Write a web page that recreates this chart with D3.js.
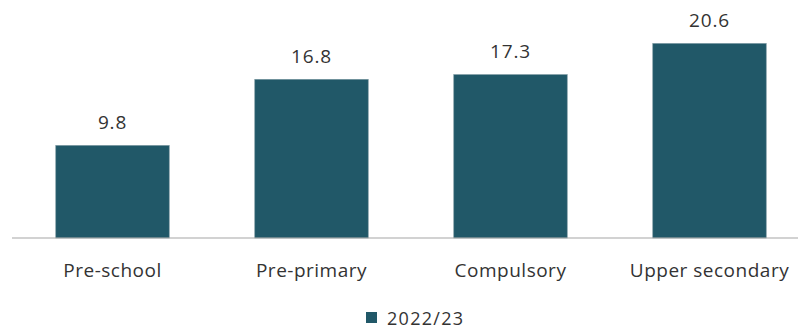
<!DOCTYPE html>
<html><head><meta charset="utf-8">
<script src="https://cdn.jsdelivr.net/npm/d3@7"></script>
<style>body{margin:0;background:#fff}svg{display:block}</style>
</head><body>
<svg id="c" width="798" height="328"></svg>
<script>
const categories = ["Pre-school", "Pre-primary", "Compulsory", "Upper secondary"];
const values = [9.8, 16.8, 17.3, 20.6];
const seriesName = "2022/23";

const svg = d3.select("#c");
const font = "'Open Sans', 'Noto Sans', sans-serif";
const color = "#215868";
const x = d3.scaleBand().domain(categories).range([13, 809]).paddingInner(0.43).paddingOuter(0.215);
const y = d3.scaleLinear().domain([0, 20.6]).range([238, 43.5]);

svg.selectAll("rect.bar").data(values).join("rect").attr("class","bar")
  .attr("x", (d,i)=>x(categories[i])).attr("width", x.bandwidth())
  .attr("y", d=>y(d)).attr("height", d=>y(0)-y(d))
  .attr("fill", color).attr("stroke","#6f8f99").attr("stroke-width",0.6);

svg.append("line").attr("x1",12).attr("x2",798).attr("y1",y(0)).attr("y2",y(0))
  .attr("stroke","#a6a6a6").attr("stroke-width",1.2);

svg.selectAll("text.val").data(values).join("text").attr("class","val")
  .attr("x",(d,i)=>x(categories[i])+x.bandwidth()/2).attr("y",d=>y(d)-16.5)
  .attr("text-anchor","middle").attr("font-family",font).attr("font-size",19).attr("fill","#333333")
  .attr("letter-spacing",0.8)
  .text(d=>d.toFixed(1));

svg.selectAll("text.cat").data(categories).join("text").attr("class","cat")
  .attr("x",d=>x(d)+x.bandwidth()/2).attr("y",277)
  .attr("text-anchor","middle").attr("font-family",font).attr("font-size",19).attr("fill","#333333")
  .attr("letter-spacing",0.5)
  .text(d=>d);

const lg = svg.append("g");
lg.append("rect").attr("x",366).attr("y",312).attr("width",11).attr("height",11).attr("fill",color);
lg.append("text").attr("x",387).attr("y",324.5).attr("font-family",font).attr("font-size",18).attr("fill","#333333")
  .attr("letter-spacing",1.3).text(seriesName);
</script>
</body></html>
